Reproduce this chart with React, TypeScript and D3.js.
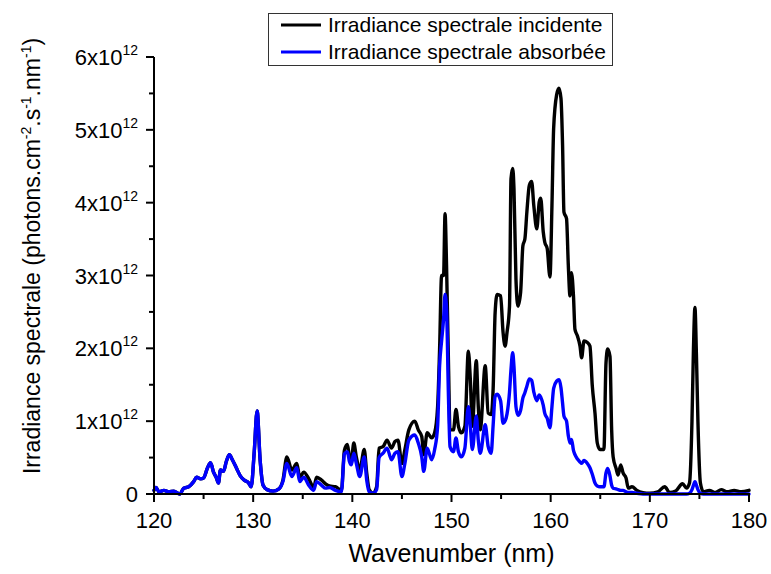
import React from "react";
import * as d3 from "d3";

const wavelengths = [
  120.0, 120.2, 120.5, 121.0, 121.5, 122.0, 122.6, 123.0, 123.5, 124.0, 124.3, 124.7, 125.0, 125.4, 125.7,
  126.0, 126.3, 126.5, 126.7, 127.0, 127.3, 127.6, 127.9, 128.3, 128.7, 129.1, 129.5, 129.8, 130.1, 130.4,
  130.7, 131.0, 131.4, 132.0, 132.6, 133.0, 133.4, 133.9, 134.4, 134.7, 135.1, 135.6, 136.1, 136.4, 136.9,
  137.3, 137.7, 138.3, 138.9, 139.2, 139.5, 139.7, 139.9, 140.15, 140.4, 140.75, 141.2, 141.45, 141.7, 142.1,
  142.45, 142.7, 143.1, 143.5, 143.95, 144.3, 144.6, 145.0, 145.3, 145.7, 146.3, 146.65, 147.0, 147.2, 147.55,
  148.0, 148.3, 148.6, 148.8, 149.0, 149.2, 149.35, 149.5, 149.7, 149.85, 150.2, 150.45, 150.7, 151.0, 151.35,
  151.7, 151.9, 152.1, 152.5, 152.7, 152.9, 153.4, 153.7, 154.0, 154.2, 154.4, 154.6, 154.95, 155.2, 155.4,
  155.6, 155.85, 156.0, 156.17, 156.3, 156.5, 156.7, 156.97, 157.2, 157.4, 157.6, 157.85, 158.08, 158.3, 158.6,
  158.85, 159.0, 159.25, 159.4, 159.65, 159.93, 160.13, 160.3, 160.6, 160.84, 161.04, 161.2, 161.34, 161.6, 161.78,
  161.95, 162.1, 162.3, 162.45, 162.7, 162.96, 163.12, 163.36, 163.7, 163.96, 164.2, 164.47, 164.7, 164.97, 165.37,
  165.58, 165.75, 165.98, 166.15, 166.3, 166.6, 166.8, 167.06, 167.3, 167.6, 167.83, 168.2, 168.7, 169.3, 170.0,
  170.8, 171.5, 172.0, 172.6, 173.3, 173.7, 174.0, 174.25, 174.4, 174.55, 174.7, 174.85, 175.1, 175.4, 176.0,
  176.6, 177.2, 177.8, 178.5, 179.2, 180.0,
];

// values in units of 1e12 photons.cm-2.s-1.nm-1
const incident = [
  0.05, 0.09, 0.03, 0.05, 0.03, 0.04, 0.0, 0.08, 0.10, 0.17, 0.23, 0.21, 0.22, 0.36, 0.43,
  0.30, 0.22, 0.15, 0.33, 0.31, 0.45, 0.54, 0.47, 0.36, 0.25, 0.19, 0.16, 0.10, 0.56, 1.14,
  0.47, 0.12, 0.06, 0.04, 0.07, 0.19, 0.51, 0.33, 0.42, 0.23, 0.30, 0.21, 0.09, 0.23, 0.19,
  0.14, 0.11, 0.10, 0.05, 0.60, 0.68, 0.52, 0.47, 0.70, 0.51, 0.33, 0.61, 0.29, 0.06, 0.01,
  0.10, 0.63, 0.65, 0.74, 0.63, 0.72, 0.74, 0.42, 0.61, 0.88, 1.00, 0.88, 0.79, 0.54, 0.84,
  0.77, 0.84, 1.20, 1.99, 3.00, 3.00, 3.85, 3.14, 1.76, 0.88, 0.88, 1.16, 0.93, 0.84, 0.93,
  1.96, 1.57, 0.93, 1.83, 1.20, 0.88, 1.76, 1.11, 1.09, 1.45, 2.49, 2.74, 2.72, 2.22, 2.03,
  2.22, 2.58, 4.33, 4.47, 4.19, 2.95, 2.58, 2.77, 3.41, 3.50, 3.87, 4.24, 4.29, 3.96, 3.64,
  4.01, 4.06, 3.60, 3.46, 3.37, 2.98, 3.96, 5.02, 5.48, 5.57, 5.43, 4.79, 3.87, 3.78, 3.14,
  2.72, 3.04, 2.72, 2.26, 2.17, 2.03, 1.87, 2.10, 2.08, 2.03, 1.48, 1.11, 0.70, 0.61, 0.61,
  1.80, 1.99, 1.89, 0.88, 0.51, 0.35, 0.26, 0.40, 0.29, 0.22, 0.08, 0.10, 0.05, 0.02, 0.01,
  0.03, 0.10, 0.02, 0.04, 0.14, 0.08, 0.15, 1.00, 2.00, 2.56, 1.90, 1.00, 0.15, 0.03, 0.05,
  0.02, 0.06, 0.03, 0.05, 0.03, 0.05,
];

const absorbed = [
  0.05, 0.09, 0.03, 0.05, 0.03, 0.04, 0.0, 0.08, 0.10, 0.17, 0.23, 0.21, 0.22, 0.36, 0.43,
  0.30, 0.22, 0.15, 0.33, 0.31, 0.45, 0.54, 0.47, 0.36, 0.25, 0.19, 0.16, 0.10, 0.56, 1.14,
  0.47, 0.12, 0.06, 0.04, 0.07, 0.17, 0.42, 0.24, 0.36, 0.17, 0.23, 0.12, 0.05, 0.17, 0.12,
  0.08, 0.09, 0.05, 0.03, 0.55, 0.58, 0.45, 0.40, 0.56, 0.42, 0.24, 0.51, 0.19, 0.03, 0.01,
  0.06, 0.50, 0.56, 0.63, 0.47, 0.56, 0.58, 0.24, 0.42, 0.74, 0.81, 0.70, 0.51, 0.31, 0.63,
  0.47, 0.61, 0.93, 1.76, 2.10, 2.40, 2.74, 2.54, 1.30, 0.65, 0.58, 0.77, 0.58, 0.51, 0.63,
  1.20, 0.93, 0.61, 1.07, 0.74, 0.56, 0.95, 0.65, 0.56, 0.95, 1.34, 1.37, 1.28, 0.97, 1.00,
  1.10, 1.40, 1.71, 1.94, 1.75, 1.20, 1.08, 1.15, 1.32, 1.39, 1.48, 1.58, 1.56, 1.40, 1.28,
  1.36, 1.33, 1.22, 1.11, 1.04, 0.91, 1.20, 1.45, 1.55, 1.57, 1.46, 1.25, 1.07, 1.00, 0.80,
  0.70, 0.75, 0.60, 0.54, 0.48, 0.44, 0.42, 0.46, 0.42, 0.36, 0.27, 0.15, 0.11, 0.10, 0.10,
  0.29, 0.35, 0.25, 0.12, 0.08, 0.07, 0.06, 0.05, 0.05, 0.03, 0.02, 0.02, 0.01, 0.0, 0.0,
  0.0, 0.0, 0.0, 0.0, 0.0, 0.0, 0.01, 0.06, 0.12, 0.17, 0.12, 0.06, 0.01, 0.0, 0.0,
  0.0, 0.0, 0.0, 0.0, 0.0, 0.0,
];

const xTicks = [120, 130, 140, 150, 160, 170, 180];
const xMinorTicks = [125, 135, 145, 155, 165, 175];
const yTicks = [0, 1, 2, 3, 4, 5, 6];
const yMinorTicks = [0.5, 1.5, 2.5, 3.5, 4.5, 5.5];
const legendLabels = ["Irradiance spectrale incidente", "Irradiance spectrale absorbée"];
const seriesColors = ["#000000", "#0000ff"];

const W = 771;
const H = 574;
const left = 154;
const right = 749;
const top = 57;
const bottom = 494;
const FONT = "'Liberation Sans', Arial, Helvetica, sans-serif";

export default function App() {
  const x = d3.scaleLinear().domain([120, 180]).range([left, right]);
  const y = d3.scaleLinear().domain([0, 6]).range([bottom, top]);
  const line = d3
    .line<number>()
    .x((_, i) => x(wavelengths[i]))
    .y((d) => y(d))
    .curve(d3.curveMonotoneX);

  const series = [incident, absorbed];

  return (
    <svg
      width={W}
      height={H}
      style={{ position: "absolute", left: 0, top: 0, background: "#fff" }}
      fontFamily={FONT}
    >
      <rect x={0} y={0} width={W} height={H} fill="#fff" />
      {series.map((s, k) => (
        <path
          key={k}
          d={line(s) || ""}
          fill="none"
          stroke={seriesColors[k]}
          strokeWidth={3.4}
          strokeLinejoin="round"
          strokeLinecap="round"
        />
      ))}
      {/* axes */}
      <line x1={left} x2={right + 1} y1={bottom} y2={bottom} stroke="#000" strokeWidth={2} />
      <line x1={left} x2={left} y1={top} y2={bottom + 1} stroke="#000" strokeWidth={2} />
      {xTicks.map((t) => (
        <g key={"xt" + t}>
          <line x1={x(t)} x2={x(t)} y1={bottom} y2={bottom + 8} stroke="#000" strokeWidth={2} />
          <text x={x(t)} y={528} textAnchor="middle" fontSize={22} fill="#000">
            {t}
          </text>
        </g>
      ))}
      {xMinorTicks.map((t) => (
        <line key={"xm" + t} x1={x(t)} x2={x(t)} y1={bottom} y2={bottom + 5} stroke="#000" strokeWidth={2} />
      ))}
      {yTicks.map((t) => (
        <g key={"yt" + t}>
          <line x1={left - 8} x2={left} y1={y(t)} y2={y(t)} stroke="#000" strokeWidth={2} />
          {t === 0 ? (
            <text x={left - 16} y={y(t) + 8} textAnchor="end" fontSize={22} fill="#000">
              0
            </text>
          ) : (
            <text x={left - 16} y={y(t) + 8} textAnchor="end" fontSize={22} fill="#000">
              {t + "x10"}
              <tspan fontSize={14} dy={-10}>
                12
              </tspan>
            </text>
          )}
        </g>
      ))}
      {yMinorTicks.map((t) => (
        <line key={"ym" + t} x1={left - 5} x2={left} y1={y(t)} y2={y(t)} stroke="#000" strokeWidth={2} />
      ))}
      {/* axis titles */}
      <text x={(left + right) / 2} y={562} textAnchor="middle" fontSize={25} fill="#000">
        Wavenumber (nm)
      </text>
      <text
        transform={`translate(40, 256) rotate(-90)`}
        textAnchor="middle"
        fontSize={23}
        fill="#000"
      >
        Irradiance spectrale (photons.cm
        <tspan fontSize={14} dy={-9}>-2</tspan>
        <tspan dy={9}>.s</tspan>
        <tspan fontSize={14} dy={-9}>-1</tspan>
        <tspan dy={9}>.nm</tspan>
        <tspan fontSize={14} dy={-9}>-1</tspan>
        <tspan dy={9}>)</tspan>
      </text>
      {/* legend */}
      <rect x={268.5} y={13.5} width={344} height={52} fill="#fff" stroke="#333" strokeWidth={1} />
      {legendLabels.map((lab, i) => (
        <g key={lab}>
          <line x1={281} x2={321} y1={25 + i * 27} y2={25 + i * 27} stroke={seriesColors[i]} strokeWidth={3} />
          <text x={328} y={25 + i * 27 + 7} fontSize={21} fill="#000">
            {lab}
          </text>
        </g>
      ))}
    </svg>
  );
}
